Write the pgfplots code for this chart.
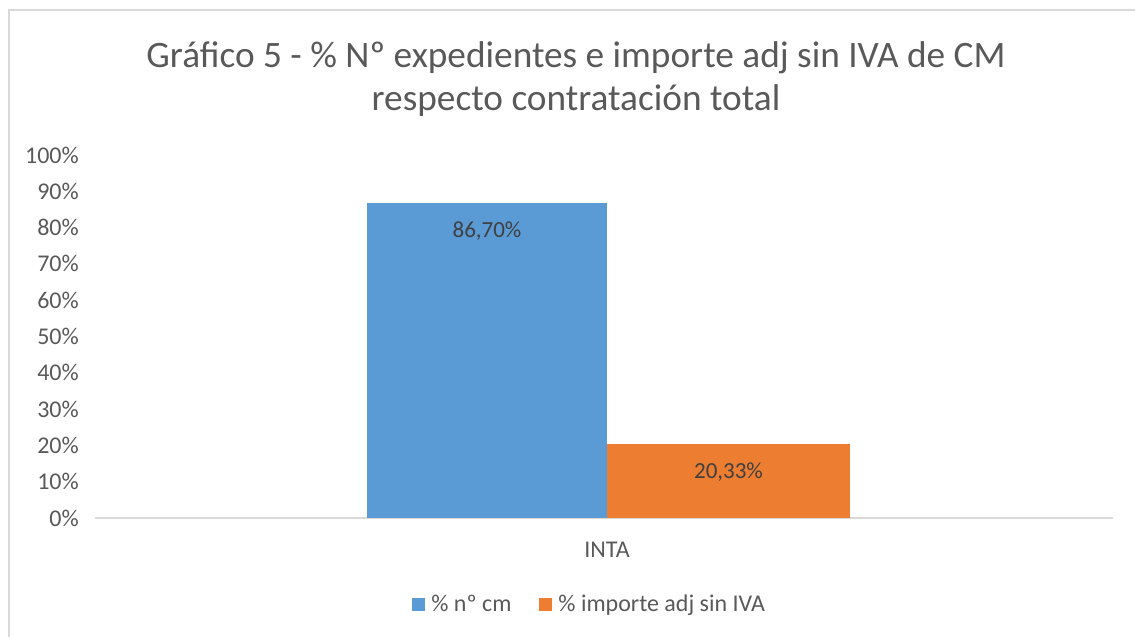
\documentclass[border=0pt]{standalone}
\usepackage{pgfplots}
\pgfplotsset{compat=1.18}
\usepackage{fontspec}
\setmainfont{Carlito}
\definecolor{txtgray}{HTML}{595959}
\definecolor{lblgray}{HTML}{404040}
\definecolor{framegray}{HTML}{D9D9D9}
\definecolor{barblue}{HTML}{5B9BD5}
\definecolor{barorange}{HTML}{ED7D31}
\begin{document}
\begin{tikzpicture}[x=1pt,y=1pt]
\useasboundingbox (0,0) rectangle (1135,637);
% chart frame (cut off at right and bottom)
\draw[framegray, line width=1.5pt] (9,0) -- (9,627) -- (1140,627);
% title
\node[align=center, text=txtgray, font=\fontsize{37.3}{43}\selectfont] at (576,558)
  {Gráfico 5 - \% Nº expedientes e importe adj sin IVA de CM\\respecto contratación total};
\begin{axis}[
    at={(95pt,119pt)}, anchor=south west,
    scale only axis,
    width=1018pt, height=363pt,
    xmin=95, xmax=1113,
    ymin=0, ymax=100,
    axis lines*=left,
    x axis line style={draw=framegray, line width=1.5pt},
    y axis line style={draw=none},
    major tick length=0pt,
    ytick={0,10,20,30,40,50,60,70,80,90,100},
    yticklabels={0\%,10\%,20\%,30\%,40\%,50\%,60\%,70\%,80\%,90\%,100\%},
    yticklabel style={anchor=east, inner sep=0pt, xshift=-16pt},
    xtick={607},
    xticklabels={INTA},
    xticklabel style={anchor=center, inner sep=0pt, yshift=-32pt},
    tick label style={font=\fontsize{24}{27}\selectfont, text=txtgray},
    /pgf/number format/assume math mode=true,
    ybar, bar shift=0pt,
    nodes near coords,
    point meta=explicit symbolic,
    every node near coord/.append style={anchor=center, yshift=-28pt,
        font=\fontsize{23}{26}\selectfont, text=lblgray},
    legend columns=2,
    legend style={at={(0.486,-0.237)}, anchor=center, draw=none, fill=none,
        font=\fontsize{24}{27}\selectfont, text=txtgray,
        /tikz/every odd column/.append style={column sep=4pt},
        /tikz/every even column/.append style={column sep=26pt}},
    legend image code/.code={\fill[#1] (0pt,-6.5pt) rectangle (13pt,6.5pt);},
    clip=false,
]
\addplot[fill=barblue, draw=none, bar width=240] coordinates {(487,86.70) [86,70\%]};
\addlegendentry{\% nº cm}
\addplot[fill=barorange, draw=none, bar width=243] coordinates {(728.5,20.33) [20,33\%]};
\addlegendentry{\% importe adj sin IVA}
\end{axis}
\end{tikzpicture}
\end{document}
